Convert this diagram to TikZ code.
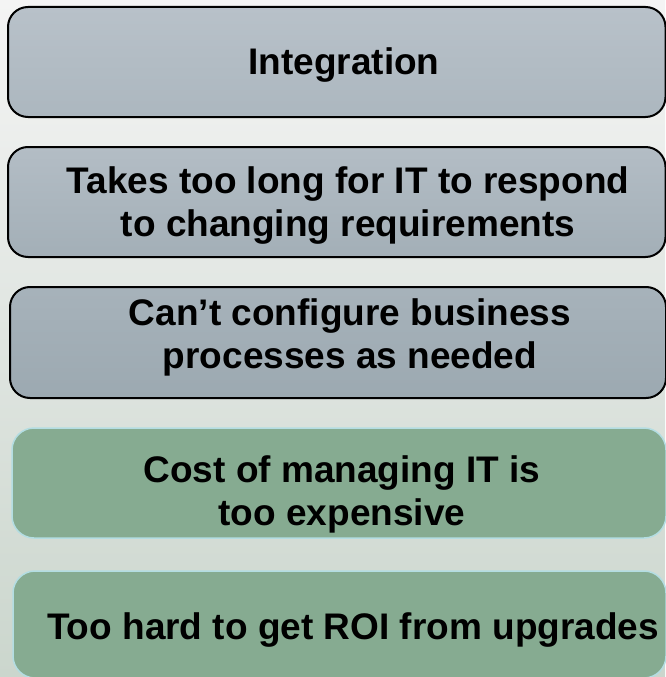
\documentclass[tikz,border=0pt]{standalone}
\usepackage{fontspec}
\setmainfont{Liberation Sans}
\usepackage{xcolor}

\definecolor{bgtop}{HTML}{F4F4F4}
\definecolor{bgbottom}{HTML}{CBD6CD}
\definecolor{greyA}{HTML}{B8C1C9}
\definecolor{greyB}{HTML}{ACB7BF}
\definecolor{greyC}{HTML}{A3AFB7}
\definecolor{greyD}{HTML}{9CA9B1}
\definecolor{boxgreen}{HTML}{86AB91}
\definecolor{lineblue}{HTML}{B3DDE2}

\tikzset{
    greybox/.style={draw=black, line width=2pt, rounded corners=20pt, inner sep=0pt},
    greenbox/.style={draw=lineblue, line width=1.5pt, rounded corners=22pt, fill=boxgreen, inner sep=0pt},
    issue/.style={font=\bfseries\fontsize{37}{43}\selectfont, align=center, inner sep=0pt}
}

\begin{document}
\begin{tikzpicture}[x=1pt,y=-1pt]
            \shade[top color=bgtop, bottom color=bgbottom] (0,0) rectangle (665,677);
            \useasboundingbox (0,0) rectangle (665,677);
            % boxes
            \node[greybox, top color=greyA, bottom color=greyB,
                  minimum width=657.5pt, minimum height=110pt](integ) at (336.75,62)  {};
            \node[greybox, top color=greyA!60!greyB, bottom color=greyC,
                  minimum width=657.5pt, minimum height=110pt](slow)  at (336.75,202) {};
            \node[greybox, top color=greyB!40!greyC, bottom color=greyD,
                  minimum width=656pt,   minimum height=111pt](conf)  at (338,342.5)  {};
            \node[greenbox, minimum width=654pt, minimum height=110pt](cost) at (339,483)   {};
            \node[greenbox, minimum width=653pt, minimum height=107pt](roi)  at (339.5,624.5) {};
            % texts
            \node[issue](integt) at (344,65.4)  {Integration};
            \node[issue](slowt)  at (348,205.4) {Takes too long for IT to respond\\to changing requirements};
            \node[issue](conft)  at (350,337.4) {Can’t configure business\\processes as needed};
            \node[issue](costt)  at (342,494.4) {Cost of managing IT is\\too expensive};
            \node[issue](roit)   at (353,630.4) {Too hard to get ROI from upgrades};
\end{tikzpicture}
\end{document}
